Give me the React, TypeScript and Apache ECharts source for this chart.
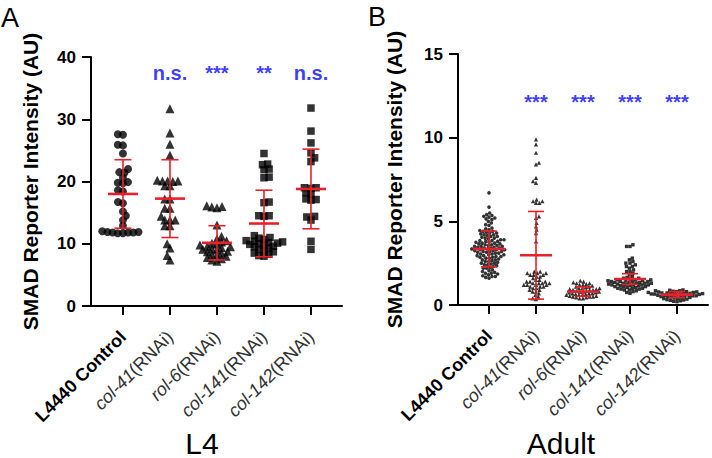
import React, { useEffect, useRef } from "react";
import * as echarts from "echarts";

// ---------- data ----------
const GROUPS = ["L4440 Control", "col-41", "rol-6", "col-141", "col-142"];
const RNAI_SUFFIX = "(RNAi)";

const l4Control = [27.6, 27.5, 25.9, 25.8, 24.5, 22.0, 21.5, 21.4, 20.6, 19.9, 19.8, 19.7, 18.6, 18.4, 16.7, 16.5, 15.2, 14.5, 13.8, 12.9, 12.0, 11.9, 11.8, 11.8, 11.7, 11.7, 11.8, 11.9];
const l4Col41 = [31.7, 27.8, 26.0, 24.2, 20.1, 20.1, 20.0, 20.1, 20.2, 19.3, 19.3, 17.2, 17.2, 15.7, 15.7, 14.4, 13.8, 13.8, 13.8, 12.9, 12.9, 10.0, 9.3, 8.1, 7.4];
const l4Rol6 = [16.1, 16.0, 15.8, 15.9, 13.0, 11.2, 10.8, 10.5, 10.3, 10.1, 9.9, 9.8, 9.6, 9.5, 9.4, 9.2, 9.1, 9.0, 8.8, 8.7, 8.5, 8.3, 8.1, 8.0, 7.8, 7.6, 7.4, 7.2];
const l4Col141 = [24.5, 22.8, 22.7, 22.0, 21.9, 20.7, 20.6, 16.7, 16.6, 14.5, 14.4, 14.5, 11.3, 11.0, 10.9, 10.7, 10.5, 10.4, 10.3, 10.2, 10.1, 10.0, 9.9, 9.8, 9.6, 9.5, 9.3, 9.1, 8.9, 8.7, 8.5, 8.3, 8.1, 8.0];
const l4Col142 = [31.8, 28.1, 26.2, 24.6, 23.8, 23.2, 19.0, 19.0, 18.9, 18.2, 18.0, 17.2, 17.1, 17.0, 14.4, 14.3, 13.8, 10.4, 9.1];
const l4Means = [18.0, 17.25, 10.15, 13.25, 18.8];
const l4Sd = [5.5, 6.25, 2.75, 5.35, 6.4];
const l4Sig = ["", "n.s.", "***", "**", "n.s."];

const adControl = [6.7, 5.85, 5.5, 5.4, 5.35, 5.3, 5.25, 5.2, 5.15, 5.1, 5.0, 4.9, 4.8, 4.75, 4.6, 4.55, 4.5, 4.45, 4.4, 4.4, 4.35, 4.3, 4.3, 4.25, 4.2, 4.2, 4.15, 4.1, 4.1, 4.05, 4.0, 4.0, 3.95, 3.9, 3.9, 3.85, 3.85, 3.8, 3.8, 3.75, 3.75, 3.7, 3.7, 3.65, 3.65, 3.6, 3.6, 3.55, 3.55, 3.5, 3.5, 3.5, 3.45, 3.45, 3.4, 3.4, 3.4, 3.35, 3.35, 3.3, 3.3, 3.3, 3.25, 3.25, 3.2, 3.2, 3.2, 3.15, 3.15, 3.1, 3.1, 3.05, 3.05, 3.0, 3.0, 2.95, 2.95, 2.9, 2.9, 2.85, 2.85, 2.8, 2.8, 2.75, 2.7, 2.7, 2.65, 2.6, 2.6, 2.55, 2.5, 2.5, 2.45, 2.4, 2.4, 2.35, 2.3, 2.25, 2.2, 2.2, 2.1, 2.05, 2.0, 1.95, 1.9, 1.9, 1.85, 1.8, 1.75, 1.7, 1.7, 1.65, 1.6];
const adCol41 = [9.9, 9.6, 9.1, 8.5, 8.4, 7.6, 7.4, 7.3, 6.3, 6.2, 6.2, 6.1, 6.1, 5.3, 5.2, 4.9, 4.7, 4.5, 4.3, 3.8, 2.0, 2.0, 1.9, 1.9, 1.9, 1.8, 1.8, 1.8, 1.7, 1.7, 1.6, 1.5, 1.5, 1.4, 1.4, 1.4, 1.3, 1.3, 1.3, 1.3, 1.2, 1.2, 1.2, 1.2, 1.1, 1.1, 1.1, 1.0, 1.0, 0.9, 0.9, 0.8, 0.8, 0.7, 0.6, 0.5, 0.4, 0.35];
const adRol6 = [1.45, 1.4, 1.35, 1.3, 1.3, 1.25, 1.2, 1.2, 1.15, 1.1, 1.1, 1.05, 1.0, 1.0, 1.0, 0.95, 0.95, 0.9, 0.9, 0.9, 0.85, 0.85, 0.8, 0.8, 0.8, 0.75, 0.75, 0.7, 0.7, 0.7, 0.65, 0.65, 0.6, 0.6, 0.6, 0.55, 0.55, 0.5, 0.5, 0.5, 0.45, 0.45, 0.4, 0.4];
const adCol141 = [3.6, 3.5, 3.5, 2.8, 2.7, 2.6, 2.5, 2.5, 2.4, 2.3, 2.3, 2.2, 2.1, 2.0, 2.0, 1.9, 1.8, 1.7, 1.65, 1.6, 1.6, 1.55, 1.5, 1.5, 1.5, 1.45, 1.45, 1.45, 1.4, 1.4, 1.4, 1.4, 1.35, 1.35, 1.35, 1.3, 1.3, 1.3, 1.3, 1.25, 1.25, 1.25, 1.2, 1.2, 1.2, 1.2, 1.15, 1.15, 1.15, 1.1, 1.1, 1.1, 1.05, 1.05, 1.0, 1.0, 1.0, 0.95, 0.95, 0.9, 0.9, 0.85, 0.8, 0.75, 0.7];
const adCol142 = [0.9, 0.88, 0.85, 0.85, 0.82, 0.8, 0.8, 0.78, 0.78, 0.75, 0.75, 0.72, 0.72, 0.7, 0.7, 0.68, 0.68, 0.66, 0.65, 0.65, 0.63, 0.62, 0.6, 0.6, 0.58, 0.58, 0.55, 0.55, 0.52, 0.5, 0.5, 0.48, 0.45, 0.45, 0.42, 0.4, 0.38, 0.35, 0.32, 0.3, 0.28, 0.25, 0.22, 0.2];
const adMeans = [3.35, 2.97, 0.8, 1.55, 0.62];
const adSd = [1.07, 2.62, 0.28, 0.32, 0.18];
const adSig = ["", "***", "***", "***", "***"];

// ---------- layout / style ----------
const FONT = "'Liberation Sans', Arial, Helvetica, sans-serif";
const RED = "#e8202a";
const BLUE = "#0a0af5";
const SYMBOLS = ["circle", "triangle", "triangle", "rect", "rect"];

const PANELS = [
  {
    groups: [l4Control, l4Col41, l4Rol6, l4Col141, l4Col142],
    means: l4Means, sd: l4Sd, sig: l4Sig,
    grid: { left: 91, top: 57, width: 251, height: 249 },
    xMin: -0.68, xMax: 4.66, yMax: 40, yInterval: 10,
    sizes: [8, 9, 9, 7.5, 7.5], swarmD: 5.2, sigY: 37.4,
    meanHalf: 15, capHalf: 8.5, nameGap: 50,
  },
  {
    groups: [adControl, adCol41, adRol6, adCol141, adCol142],
    means: adMeans, sd: adSd, sig: adSig,
    grid: { left: 458, top: 54, width: 250, height: 251 },
    xMin: -0.66, xMax: 4.66, yMax: 15, yInterval: 5,
    sizes: [3.6, 4.2, 4.2, 3.4, 3.4], swarmD: 3.4, sigY: 12.13,
    meanHalf: 16, capHalf: 8, nameGap: 53,
  },
];

function swarm(values: number[], yPx: number, diam: number): number[] {
  const order = values.map((_, i) => i).sort((a, b) => values[a] - values[b]);
  const placed: { x: number; y: number }[] = [];
  const out = new Array(values.length).fill(0);
  order.forEach((i, k) => {
    const y = values[i] * yPx;
    const near = placed.filter((p) => Math.abs(p.y - y) < diam);
    const cands = [0];
    near.forEach((p) => {
      const dx = Math.sqrt(diam * diam - (p.y - y) * (p.y - y));
      cands.push(p.x + dx, p.x - dx);
    });
    const pref = k % 2 === 0 ? 1 : -1;
    cands.sort((a, b) => Math.abs(a) - Math.abs(b) || (b - a) * pref);
    let chosen = 0;
    for (const c of cands) {
      if (near.every((p) => (p.x - c) ** 2 + (p.y - y) ** 2 >= diam * diam - 1e-6)) {
        chosen = c;
        break;
      }
    }
    placed.push({ x: chosen, y });
    out[i] = chosen;
  });
  return out;
}

function labelFor(i: number): string {
  if (i === 0) return "{b|" + GROUPS[0] + "}";
  return "{i|" + GROUPS[i] + "}{n|" + RNAI_SUFFIX + "}";
}

function buildOption() {
  const grids: any[] = [];
  const xAxes: any[] = [];
  const yAxes: any[] = [];
  const series: any[] = [];
  PANELS.forEach((P, pi) => {
    grids.push({ ...P.grid, containLabel: false });
    xAxes.push({
      type: "value", gridIndex: pi, min: P.xMin, max: P.xMax,
      axisLine: { show: true, onZero: false, lineStyle: { color: "#000", width: 2 } },
      axisTick: { show: true, customValues: [0, 1, 2, 3, 4], length: 9, lineStyle: { color: "#000", width: 2 } },
      axisLabel: {
        customValues: [0, 1, 2, 3, 4], rotate: 45, margin: 28,
        formatter: (v: number) => labelFor(Math.round(v)),
        rich: {
          b: { fontFamily: FONT, fontSize: 18, fontWeight: "bold", color: "#000" },
          i: { fontFamily: FONT, fontSize: 18, fontStyle: "italic", color: "#333" },
          n: { fontFamily: FONT, fontSize: 18, color: "#333" },
        },
      },
      splitLine: { show: false },
    });
    yAxes.push({
      type: "value", gridIndex: pi, min: 0, max: P.yMax, interval: P.yInterval,
      axisLine: { show: true, onZero: false, lineStyle: { color: "#000", width: 2 } },
      axisTick: { show: true, length: 9, lineStyle: { color: "#000", width: 2 } },
      axisLabel: { fontFamily: FONT, fontSize: 17, fontWeight: "bold", color: "#000", margin: 15 },
      splitLine: { show: false },
      name: "SMAD Reporter Intensity (AU)", nameLocation: "middle", nameGap: P.nameGap,
      nameTextStyle: { fontFamily: FONT, fontSize: 21, fontWeight: "bold", color: "#000" },
    });
    const xPx = P.grid.width / (P.xMax - P.xMin);
    const yPx = P.grid.height / P.yMax;
    P.groups.forEach((vals, gi) => {
      const offs = swarm(vals, yPx, P.swarmD);
      series.push({
        type: "scatter", xAxisIndex: pi, yAxisIndex: pi, z: 2,
        symbol: SYMBOLS[gi], symbolSize: P.sizes[gi],
        itemStyle: { color: "#000" },
        data: vals.map((v, k) => [gi + offs[k] / xPx, v]),
        silent: true,
      });
    });
    series.push({
      type: "custom", xAxisIndex: pi, yAxisIndex: pi, z: 5,
      encode: { x: 0, y: 1 },
      data: P.means.map((m, i) => [i, m, P.sd[i]]),
      renderItem: (params: any, api: any) => {
        const x = api.value(0), m = api.value(1), s = api.value(2);
        const c = api.coord([x, m]);
        const t = api.coord([x, m + s]);
        const b = api.coord([x, m - s]);
        const thin = { stroke: RED, lineWidth: 1.6 };
        return {
          type: "group",
          children: [
            { type: "line", shape: { x1: c[0], y1: t[1], x2: c[0], y2: b[1] }, style: thin },
            { type: "line", shape: { x1: c[0] - P.capHalf, y1: t[1], x2: c[0] + P.capHalf, y2: t[1] }, style: thin },
            { type: "line", shape: { x1: c[0] - P.capHalf, y1: b[1], x2: c[0] + P.capHalf, y2: b[1] }, style: thin },
            { type: "line", shape: { x1: c[0] - P.meanHalf, y1: c[1], x2: c[0] + P.meanHalf, y2: c[1] }, style: { stroke: RED, lineWidth: 2.6 } },
          ],
        };
      },
    });
    series.push({
      type: "scatter", xAxisIndex: pi, yAxisIndex: pi, z: 6, symbolSize: 0,
      data: P.sig.map((s, i) => ({ name: s, value: [i, P.sigY] })).filter((d) => d.name),
      label: {
        show: true, position: "inside", formatter: "{b}",
        fontFamily: FONT, fontSize: 20, fontWeight: "bold", color: BLUE,
      },
      silent: true,
    });
  });
  return {
    animation: false,
    backgroundColor: "#fff",
    grid: grids,
    xAxis: xAxes,
    yAxis: yAxes,
    series,
    graphic: [
      { type: "text", x: 1, y: 18, style: { text: "A", fill: "#000", font: "27px " + FONT, verticalAlign: "middle" } },
      { type: "text", x: 368, y: 17, style: { text: "B", fill: "#000", font: "27px " + FONT, verticalAlign: "middle" } },
      { type: "text", x: 202, y: 443, style: { text: "L4", fill: "#000", font: "30px " + FONT, align: "center", verticalAlign: "middle" } },
      { type: "text", x: 561, y: 443, style: { text: "Adult", fill: "#000", font: "30px " + FONT, align: "center", verticalAlign: "middle" } },
    ],
  };
}

export default function App() {
  const ref = useRef<HTMLDivElement>(null);
  useEffect(() => {
    if (!ref.current) return;
    const chart = echarts.init(ref.current, undefined, { renderer: "svg" });
    chart.setOption(buildOption() as any);
    return () => chart.dispose();
  }, []);
  return (
    <div
      ref={ref}
      style={{ position: "fixed", left: 0, top: 0, width: 712, height: 458, background: "#fff" }}
    />
  );
}
